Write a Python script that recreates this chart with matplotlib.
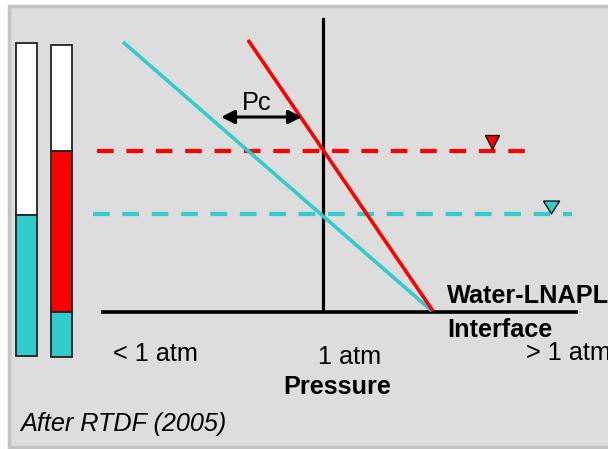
import matplotlib

matplotlib.use("Agg")
import matplotlib.pyplot as plt
from matplotlib.patches import Rectangle, FancyArrowPatch

plt.rcParams["font.family"] = ["Liberation Sans", "DejaVu Sans"]
plt.rcParams["lines.scale_dashes"] = False

CYAN = "#33cccc"
RED = "#ff0000"
FS = 18.2
DASH = (12.0, 9.15)

# schematic in pixel units (y grows downward)
# column bars: (left, right) and layer boundaries top -> bottom
COL_X = [16, 51]
COL_W = 21
COL1_EDGES = [43, 215, 356]
COL1_COLORS = ["white", CYAN]
COL2_EDGES = [45, 151, 312, 357]
COL2_COLORS = ["white", RED, CYAN]

# pressure profiles
WATER_X = [123, 432]
WATER_Y = [42, 311]
LNAPL_X = [248, 433]
LNAPL_Y = [40, 311]

# axes lines
VERT_X = [323, 323]
VERT_Y = [19, 311]
HORIZ_X = [103, 576]
HORIZ_Y = [312, 312]

# water tables
LNAPL_TABLE_X = [97, 525]
LNAPL_TABLE_Y = 151
WATER_TABLE_X = [93, 572]
WATER_TABLE_Y = 214
LNAPL_MARK = (492, 141.5)
WATER_MARK = (551, 206.5)

PC_X = [221, 302]
PC_Y = 117


def main():
    fig = plt.figure(figsize=(6.08, 4.49), dpi=100)
    ax = fig.add_axes([0, 0, 1, 1])
    ax.set_xlim(0, 608)
    ax.set_ylim(449, 0)
    ax.axis("off")

    ax.add_patch(Rectangle((9, 6), 620, 441, facecolor="#dddddd",
                           edgecolor="#c4c4c4", linewidth=2.5, zorder=0))

    for x, edges, colors in [(COL_X[0], COL1_EDGES, COL1_COLORS),
                             (COL_X[1], COL2_EDGES, COL2_COLORS)]:
        for top, bot, c in zip(edges[:-1], edges[1:], colors):
            ax.bar(x, bot - top, bottom=top, width=COL_W, align="edge",
                   color=c, edgecolor="#222222", linewidth=1.3, zorder=2)

    ax.plot(LNAPL_TABLE_X, [LNAPL_TABLE_Y] * 2, color=RED, lw=3,
            dashes=DASH, zorder=3)
    ax.plot(WATER_TABLE_X, [WATER_TABLE_Y] * 2, color=CYAN, lw=3,
            dashes=DASH, zorder=3)
    ax.plot(*LNAPL_MARK, marker="v", ms=9.6, color=RED, mec="black",
            mew=0.9, zorder=5)
    wide_tri = [(-1, 0.8), (1, 0.8), (0, -0.8), (-1, 0.8)]
    ax.plot(*WATER_MARK, marker=wide_tri, ms=11.6, color=CYAN, mec="black",
            mew=0.9, zorder=5)

    ax.plot(VERT_X, VERT_Y, color="black", lw=2.3, zorder=3)
    ax.plot(HORIZ_X, HORIZ_Y, color="black", lw=2.6, zorder=3)

    ax.plot(WATER_X, WATER_Y, color=CYAN, lw=2.6, zorder=4,
            solid_capstyle="butt")
    ax.plot(LNAPL_X, LNAPL_Y, color=RED, lw=2.6, zorder=4,
            solid_capstyle="butt")

    ax.add_patch(FancyArrowPatch((PC_X[0], PC_Y), (PC_X[1], PC_Y),
                                 arrowstyle="<|-|>,head_length=8,head_width=4",
                                 color="black", lw=2.2, shrinkA=0, shrinkB=0,
                                 zorder=5))
    ax.text(257, 110, "Pc", fontsize=FS, ha="center", va="baseline")

    ax.text(113, 361, "< 1 atm", fontsize=FS, ha="left", va="baseline")
    ax.text(350, 364, "1 atm", fontsize=FS, ha="center", va="baseline")
    ax.text(337, 394, "Pressure", fontsize=FS, fontweight="bold",
            ha="center", va="baseline")
    ax.text(526, 360, "> 1 atm", fontsize=FS, ha="left", va="baseline")
    ax.text(447, 303, "Water-LNAPL", fontsize=FS, fontweight="bold",
            ha="left", va="baseline")
    ax.text(447, 337, "Interface", fontsize=FS, fontweight="bold",
            ha="left", va="baseline")
    ax.text(20, 431, "After RTDF (2005)", fontsize=FS, style="italic",
            ha="left", va="baseline")

    fig.savefig("out.png", dpi=100)


if __name__ == "__main__":
    main()
